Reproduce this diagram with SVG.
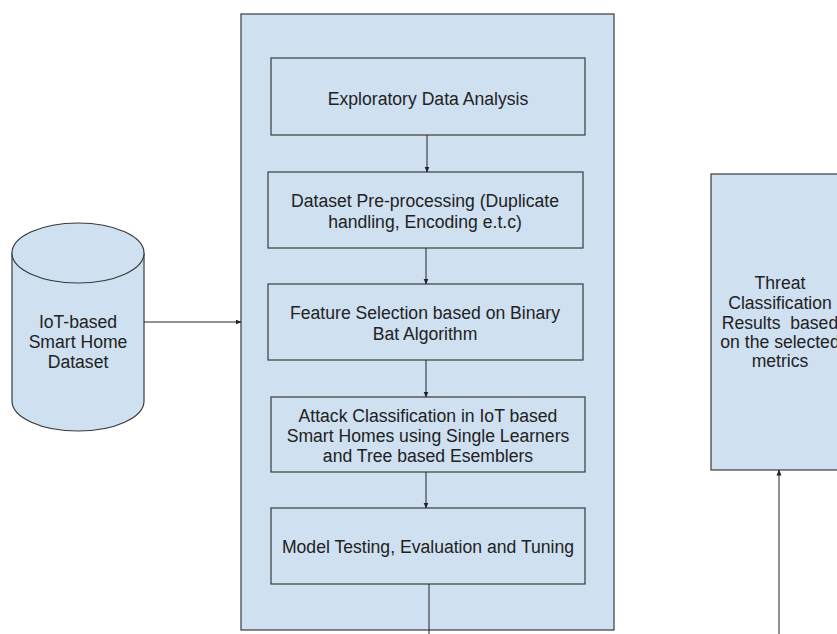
<svg xmlns="http://www.w3.org/2000/svg" width="837" height="634" viewBox="0 0 837 634">
<defs>
<style>
.shape{fill:#cfe0f1;stroke:#3a3a3a;stroke-width:1.2}
.lbl{font-family:"Liberation Sans",Arial,sans-serif;font-size:17.6px;fill:#222;text-anchor:middle;white-space:pre}
.conn{stroke:#222;stroke-width:1;fill:none}
</style>
<marker id="ah" markerWidth="6" markerHeight="6" refX="5.5" refY="3" orient="auto" markerUnits="userSpaceOnUse">
<path d="M0,0.5 L6,3 L0,5.5 Z" fill="#222"/>
</marker>
</defs>
<rect width="837" height="634" fill="#fff"/>
<g id="panel">
<rect class="shape" x="241" y="14" width="373" height="616"/>
</g>
<g id="dataset">
<path class="shape" d="M12,253 L12,401 A66,30 0 0 0 144,401 L144,253"/>
<ellipse class="shape" cx="78" cy="253" rx="66" ry="30"/>
<text class="lbl" x="78" y="328">IoT-based</text>
<text class="lbl" x="78" y="348">Smart Home</text>
<text class="lbl" x="78" y="368">Dataset</text>
</g>
<g id="eda">
<rect class="shape" x="271" y="58" width="314" height="77"/>
<text class="lbl" x="428" y="105">Exploratory Data Analysis</text>
</g>
<g id="preprocessing">
<rect class="shape" x="268" y="172" width="315" height="76"/>
<text class="lbl" x="425" y="207">Dataset Pre-processing (Duplicate</text>
<text class="lbl" x="425" y="228">handling, Encoding e.t.c)</text>
</g>
<g id="feature-selection">
<rect class="shape" x="268" y="284" width="315" height="76"/>
<text class="lbl" x="425" y="319">Feature Selection based on Binary</text>
<text class="lbl" x="425" y="340">Bat Algorithm</text>
</g>
<g id="attack-classification">
<rect class="shape" x="271" y="397" width="314" height="75"/>
<text class="lbl" x="428" y="422">Attack Classification in IoT based</text>
<text class="lbl" x="428" y="442">Smart Homes using Single Learners</text>
<text class="lbl" x="428" y="462">and Tree based Esemblers</text>
</g>
<g id="model-testing">
<rect class="shape" x="271" y="508" width="314" height="76"/>
<text class="lbl" x="428" y="553">Model Testing, Evaluation and Tuning</text>
</g>
<g id="results">
<rect class="shape" x="711" y="174" width="140" height="296"/>
<text class="lbl" x="780" y="289">Threat</text>
<text class="lbl" x="780" y="309">Classification</text>
<text class="lbl" x="780" y="329" xml:space="preserve">Results  based</text>
<text class="lbl" x="780" y="348">on the selected</text>
<text class="lbl" x="780" y="367">metrics</text>
</g>
<g id="connectors">
<line class="conn" x1="144" y1="322" x2="241" y2="322" marker-end="url(#ah)"/>
<line class="conn" x1="427" y1="135" x2="427" y2="172" marker-end="url(#ah)"/>
<line class="conn" x1="426" y1="248" x2="426" y2="284" marker-end="url(#ah)"/>
<line class="conn" x1="426" y1="360" x2="426" y2="397" marker-end="url(#ah)"/>
<line class="conn" x1="426" y1="472" x2="426" y2="508" marker-end="url(#ah)"/>
<line class="conn" x1="429" y1="584" x2="429" y2="634"/>
<line class="conn" x1="779" y1="634" x2="779" y2="470" marker-end="url(#ah)" stroke="#555"/>
</g>
</svg>
